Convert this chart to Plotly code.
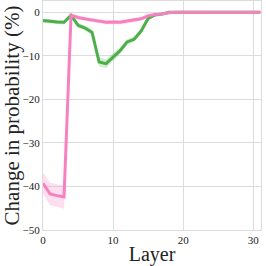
import plotly.graph_objects as go

layers = list(range(32))
green = [-1.9, -2.1, -2.2, -2.3, -0.7, -3.0, -3.6, -4.6, -11.4, -11.8, -10.4, -8.8,
         -6.8, -6.2, -4.3, -1.4, -0.6, -0.4, 0.0, 0.0, 0.0, 0.0, 0.0, 0.0,
         0.0, 0.0, 0.0, 0.0, 0.0, 0.0, 0.0, 0.0]
green_err = [0.5, 0.5, 0.5, 0.5, 0.4, 0.6, 0.6, 0.7, 1.0, 1.0, 0.9, 0.8,
             0.7, 0.6, 0.5, 0.3, 0.2, 0.2, 0.1, 0.1, 0.1, 0.1, 0.1, 0.1,
             0.1, 0.1, 0.1, 0.1, 0.1, 0.1, 0.1, 0.1]
pink = [-39.3, -41.7, -42.1, -42.4, -0.7, -1.2, -1.5, -1.8, -2.0, -2.3, -2.2, -2.3,
        -2.0, -1.8, -1.5, -0.8, -0.5, -0.4, -0.1, 0.0, 0.0, 0.0, 0.0, 0.0,
        0.0, 0.0, 0.0, 0.0, 0.0, 0.0, 0.0, 0.0]
pink_err = [2.5, 2.6, 2.6, 2.7, 0.4, 0.5, 0.5, 0.5, 0.5, 0.5, 0.5, 0.5,
            0.5, 0.5, 0.4, 0.3, 0.2, 0.2, 0.1, 0.1, 0.1, 0.1, 0.1, 0.1,
            0.1, 0.1, 0.1, 0.1, 0.1, 0.1, 0.1, 0.1]

series = [
    (green, green_err, "#4daf4a", "rgba(77,175,74,0.25)"),
    (pink, pink_err, "#f781bf", "rgba(247,129,191,0.25)"),
]

SERIF = "Liberation Serif"

fig = go.Figure()
for vals, err, col, fillcol in series:
    upper = [v + e for v, e in zip(vals, err)]
    lower = [v - e for v, e in zip(vals, err)]
    fig.add_trace(go.Scatter(x=layers + layers[::-1], y=upper + lower[::-1],
                             fill="toself", fillcolor=fillcol, line=dict(width=0),
                             mode="lines", hoverinfo="skip", showlegend=False))
    fig.add_trace(go.Scatter(x=layers, y=vals, mode="lines",
                             line=dict(color=col, width=3), showlegend=False))

fig.update_layout(
    width=266, height=266,
    margin=dict(l=43, r=5, t=1, b=36, autoexpand=False),
    plot_bgcolor="white", paper_bgcolor="white",
    font=dict(family=SERIF, color="#222"),
)
fig.update_xaxes(range=[0, 31.1], tickvals=[0, 10, 20, 30], ticks="",
                 showgrid=True, gridcolor="#dcdcdc", gridwidth=1, automargin=False,
                 showline=True, linecolor="#dcdcdc", mirror=True, zeroline=False,
                 tickfont=dict(size=11, family=SERIF),
                 title=dict(text="Layer", font=dict(size=20, family=SERIF), standoff=1))
fig.update_yaxes(range=[-50, 2.6], tickvals=[0, -10, -20, -30, -40, -50], ticks="",
                 showgrid=True, gridcolor="#dcdcdc", gridwidth=1, automargin=False,
                 showline=True, linecolor="#dcdcdc", mirror=True, zeroline=False,
                 tickfont=dict(size=11, family=SERIF),
                 title=dict(text="Change in probability (%)", font=dict(size=21, family=SERIF), standoff=4))

fig.write_html("out.html", config={"displayModeBar": False},
               post_script="document.body.style.margin='0px';")
